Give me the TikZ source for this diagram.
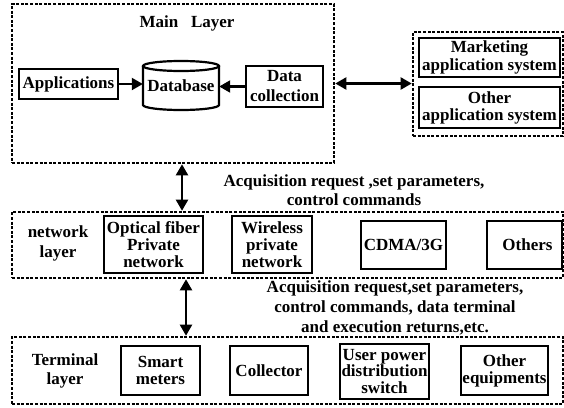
\documentclass[tikz,border=0pt]{standalone}
\usepackage{fontspec}
\setmainfont{Liberation Serif}
\usetikzlibrary{arrows.meta,calc}
\tikzset{
  every node/.style={font=\fontsize{17}{18}\selectfont\bfseries, inner sep=0pt, align=center},
  box/.style n args={2}{draw, line width=2.2pt, minimum width=#1pt, minimum height=#2pt},
  dashbox/.style n args={2}{draw, line width=2.6pt, dash pattern=on 3pt off 1.6pt, minimum width=#1pt, minimum height=#2pt},
  ls/.style={font=\fontsize{17}{#1}\selectfont\bfseries},
  arr/.style={line width=2.1pt, -{Triangle[length=11pt,width=12pt]}},
  darr/.style={line width=2.1pt, {Triangle[length=11pt,width=12pt]}-{Triangle[length=11pt,width=12pt]}}
}
\begin{document}
\begin{tikzpicture}[x=1pt,y=-1pt]
\useasboundingbox (0,0) rectangle (564,407);
% main layer
\node[dashbox={322}{159}] (main) at (173,83.5) {};
\node (mtitle) at (187,23) {Main~~~Layer};
\node[box={99}{30}] (app) at (68.5,84) {Applications};
\node[minimum width=76pt, minimum height=49pt] (db) at (181,86) {Database};
\draw[line width=2.2pt] (143,66) -- (143,105) arc[start angle=180, end angle=360, x radius=38pt, y radius=5pt] -- (219,66);
\draw[line width=2.2pt] (181,66) ellipse [x radius=38pt, y radius=5pt];
\node[box={77}{41}, ls=20] (dc) at (284.5,86.5) {Data\\collection};
% right systems
\node[dashbox={150}{104}] (right) at (488,84) {};
\node[box={141}{39}, ls=18] (mkt) at (489.5,57.5) {Marketing\\application system};
\node[box={141}{41}, ls=17] (oth) at (489.5,107.5) {Other\\application system};
% text 1
\node[ls=19] (txt1) at (354,190.5) {Acquisition request ,set parameters,\\control commands};
% network layer
\node[dashbox={551}{66}] (net) at (287.5,245) {};
\node[ls=20] (netlbl) at (58,243.5) {network\\layer};
\node[box={99}{57}, ls=17] (opt) at (153.5,244.5) {Optical fiber\\Private\\network};
\node[box={80}{57}, ls=17] (wl) at (272,244.5) {Wireless\\private\\network};
\node[box={85}{48}] (cdma) at (403.5,245) {CDMA/3G};
\node[box={75}{48}] (others) at (524.5,245) {\hspace*{6pt}Others};
% text 2
\node[ls=20] (txt2) at (395,307.5) {Acquisition request,set parameters,\\control commands, data terminal\\and execution returns,etc.};
% terminal layer
\node[dashbox={551}{67}] (term) at (287.5,370.5) {};
\node[ls=19] (termlbl) at (65,370.5) {Terminal\\layer};
\node[box={79}{49}, ls=17] (sm) at (160.5,370.5) {Smart\\meters};
\node[box={78}{49}] (col) at (269,370.5) {Collector};
\node[box={89}{55}, ls=16.5, line width=2.6pt] (upd) at (384.5,371.5) {User power\\distribution\\switch};
\node[box={87}{49}, ls=17] (oe) at (504.5,370.5) {Other\\equipments};
% connectors
\draw[arr] (app.east) -- (app.east -| db.west);
\draw[arr] (dc.west) -- (dc.west -| db.east);
\draw[darr] (main.east) -- (main.east -| right.west);
\coordinate (c1) at (182,0);
\coordinate (c2) at (186,0);
\draw[darr] (c1 |- main.south) -- (c1 |- net.north);
\draw[darr] (c2 |- net.south) -- (c2 |- term.north);
\end{tikzpicture}
\end{document}
